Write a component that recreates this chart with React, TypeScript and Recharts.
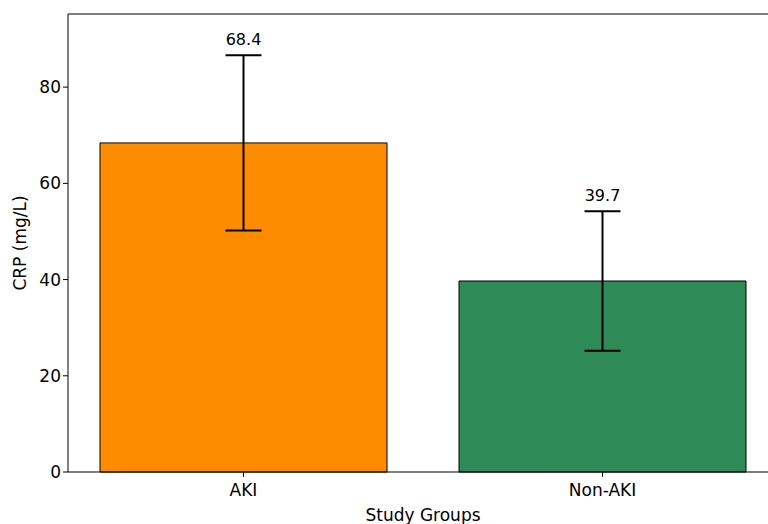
import { Bar, BarChart, Cell, ErrorBar, ReferenceLine, XAxis, YAxis } from "recharts";

const groups = ["AKI", "Non-AKI"];
const crpMeans = [68.4, 39.7];
const crpSd = [18.2, 14.5];
const barColors = ["#ff8c00", "#2e8b57"];
const yTicks = [0, 20, 40, 60, 80];
const yMax = 95.2;

const data = groups.map((g, i) => ({ group: g, crp: crpMeans[i], sd: crpSd[i] }));

const font = "'DejaVu Sans', sans-serif";

// value label sits just above the top cap of the error bar
const ValueLabel = (props: any) => {
  const { x, y, width, height, value, index } = props;
  const pxPerUnit = height / value;
  const capY = y - crpSd[index] * pxPerUnit;
  return (
    <text x={x + width / 2} y={capY - 10} textAnchor="middle" fontSize={16} fontFamily={font} fill="#000">
      {value.toFixed(1)}
    </text>
  );
};

export default function App() {
  return (
    <div style={{ position: "absolute", left: 0, top: 0, background: "#fff", width: 768, height: 524, overflow: "hidden" }}>
      <BarChart width={780} height={524} data={data} margin={{ top: 14, right: 2, bottom: 0, left: 8 }}>
        <XAxis
          dataKey="group"
          padding={{ left: -4, right: -4 }}
          height={52}
          stroke="#000"
          tickSize={5}
          tickMargin={7}
          tick={{ fill: "#000", fontSize: 17, fontFamily: font }}
          label={{ value: "Study Groups", position: "insideBottom", offset: 3, fill: "#000", fontSize: 17, fontFamily: font }}
        />
        <YAxis
          width={60}
          domain={[0, yMax]}
          ticks={yTicks}
          stroke="#000"
          tickSize={5}
          tick={{ fill: "#000", fontSize: 17, fontFamily: font }}
          label={{ value: "CRP (mg/L)", angle: -90, position: "insideLeft", offset: 12, fill: "#000", fontSize: 17, fontFamily: font, style: { textAnchor: "middle" } }}
        />
        <ReferenceLine y={yMax} stroke="#000" strokeWidth={1} ifOverflow="visible" />
        <Bar dataKey="crp" barSize={287} stroke="#000" strokeWidth={1} isAnimationActive={false} label={<ValueLabel />}>
          {data.map((d, i) => (
            <Cell key={d.group} fill={barColors[i]} />
          ))}
          <ErrorBar dataKey="sd" width={18} stroke="#000" strokeWidth={2} />
        </Bar>
      </BarChart>
    </div>
  );
}
